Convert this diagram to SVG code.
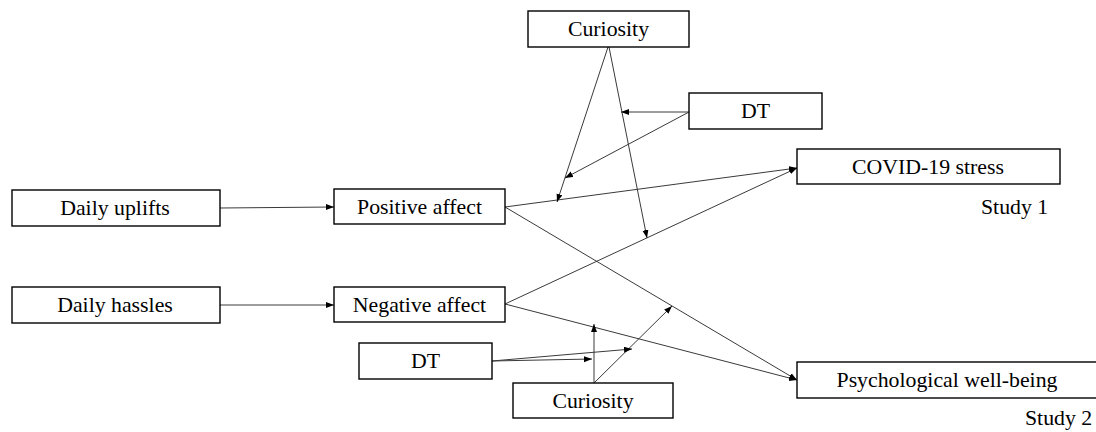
<svg xmlns="http://www.w3.org/2000/svg" width="1096" height="432" viewBox="0 0 1096 432">
  <style>
    .box { fill: #ffffff; stroke: #000000; stroke-width: 1.4; }
    .lbl { font-family: "Liberation Serif", "Times New Roman", serif; font-size: 21.8px; fill: #000000; text-anchor: middle; }
    .note { font-family: "Liberation Serif", "Times New Roman", serif; font-size: 21.8px; fill: #000000; }
    .conn line { stroke: #3a3a3a; stroke-width: 1; fill: none; marker-end: url(#arrow); }
  </style>
  <defs>
    <marker id="arrow" markerUnits="userSpaceOnUse" markerWidth="9" markerHeight="7" refX="8" refY="3" orient="auto">
      <path d="M0,0 L8,3 L0,6 Z" fill="#000000"/>
    </marker>
  </defs>
  <rect width="1096" height="432" fill="#ffffff"/>

  <g id="connectors" class="conn">
    <line x1="220" y1="208" x2="334" y2="207"/>
    <line x1="220" y1="305" x2="334" y2="305"/>
    <line x1="505" y1="207" x2="797" y2="168"/>
    <line x1="505" y1="207" x2="797" y2="380"/>
    <line x1="505" y1="304" x2="797" y2="168"/>
    <line x1="505" y1="304" x2="797" y2="380"/>
    <line x1="608" y1="47" x2="557" y2="202"/>
    <line x1="609" y1="47" x2="647" y2="238"/>
    <line x1="689" y1="112" x2="621" y2="112"/>
    <line x1="689" y1="112" x2="565" y2="178"/>
    <line x1="594" y1="383" x2="594" y2="324"/>
    <line x1="594" y1="383" x2="672" y2="306"/>
    <line x1="492" y1="361" x2="592" y2="359"/>
    <line x1="492" y1="361" x2="632" y2="349"/>
  </g>

  <g id="curiosity-top">
    <rect class="box" x="528" y="11" width="161" height="36"/>
    <text class="lbl" x="608.5" y="36">Curiosity</text>
  </g>
  <g id="dt-top">
    <rect class="box" x="689" y="93" width="133" height="36"/>
    <text class="lbl" x="755.5" y="118">DT</text>
  </g>
  <g id="covid-stress">
    <rect class="box" x="797" y="149" width="263" height="35"/>
    <text class="lbl" x="928" y="174">COVID-19 stress</text>
  </g>
  <g id="study1">
    <text class="note" x="981" y="214">Study 1</text>
  </g>
  <g id="daily-uplifts">
    <rect class="box" x="12" y="190" width="208" height="36"/>
    <text class="lbl" x="115" y="215">Daily uplifts</text>
  </g>
  <g id="positive-affect">
    <rect class="box" x="334" y="189" width="171" height="35"/>
    <text class="lbl" x="419.5" y="214">Positive affect</text>
  </g>
  <g id="daily-hassles">
    <rect class="box" x="12" y="287" width="208" height="36"/>
    <text class="lbl" x="115" y="312">Daily hassles</text>
  </g>
  <g id="negative-affect">
    <rect class="box" x="334" y="287" width="171" height="35"/>
    <text class="lbl" x="419.5" y="312">Negative affect</text>
  </g>
  <g id="dt-bottom">
    <rect class="box" x="359" y="343" width="133" height="36"/>
    <text class="lbl" x="425.5" y="368">DT</text>
  </g>
  <g id="curiosity-bottom">
    <rect class="box" x="513" y="383" width="160" height="35"/>
    <text class="lbl" x="593" y="408">Curiosity</text>
  </g>
  <g id="psychological-well-being">
    <rect class="box" x="797" y="362" width="304" height="36"/>
    <text class="lbl" x="947" y="387">Psychological well-being</text>
  </g>
  <g id="study2">
    <text class="note" x="1025" y="425">Study 2</text>
  </g>
</svg>
